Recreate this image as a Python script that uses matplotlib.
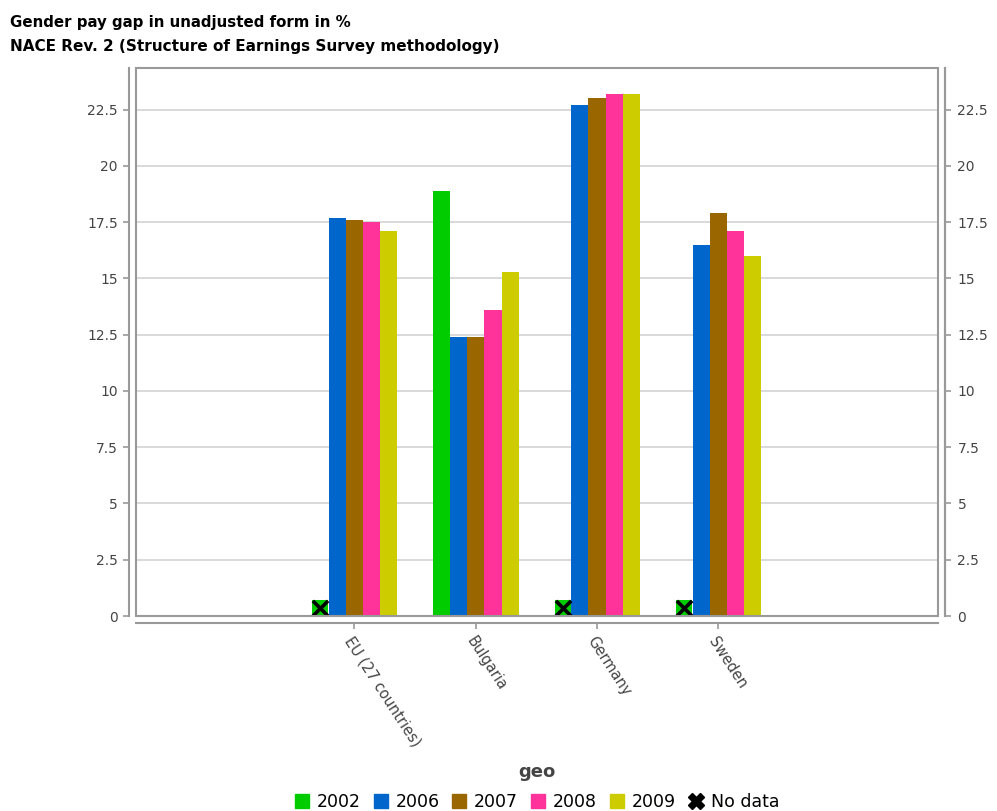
"""Gender pay gap chart (Eurostat style grouped bars)."""

import matplotlib
matplotlib.use("Agg")
import matplotlib.pyplot as plt
from matplotlib.lines import Line2D
from matplotlib.patches import Rectangle
import numpy as np

plt.rcParams["font.family"] = "DejaVu Sans"

COUNTRIES = ["EU (27 countries)", "Bulgaria", "Germany", "Sweden"]
YEARS = ["2002", "2006", "2007", "2008", "2009"]
COLORS = ["#00CC00", "#0066CC", "#996600", "#FF3399", "#CCCC00"]

# None = no data
V2002 = [None, 18.9, None, None]
V2006 = [17.7, 12.4, 22.7, 16.5]
V2007 = [17.6, 12.4, 23.0, 17.9]
V2008 = [17.5, 13.6, 23.2, 17.1]
V2009 = [17.1, 15.3, 23.2, 16.0]
SERIES = [V2002, V2006, V2007, V2008, V2009]

YTICKS = [0, 2.5, 5, 7.5, 10, 12.5, 15, 17.5, 20, 22.5]
YTICK_LABELS = ["0", "2.5", "5", "7.5", "10", "12.5", "15", "17.5", "20", "22.5"]

W, H = 997, 811
BAR_W = 0.142
AX_GRAY = "#999999"
TXT_GRAY = "#444444"


def main():
    fig = plt.figure(figsize=(W / 100, H / 100), dpi=100)
    ax = fig.add_axes([136 / W, (H - 616) / H, (938 - 136) / W, (616 - 68) / H])
    ax.set_xlim(-1.8, 4.81)
    ax.set_ylim(0, 24.35)

    # plot box
    ax.add_patch(Rectangle((0, 0), 1, 1, transform=ax.transAxes, fill=False,
                           edgecolor=AX_GRAY, lw=1.5, zorder=5, clip_on=False))
    ax.spines["top"].set_visible(False)
    for side in ("left", "right", "bottom"):
        ax.spines[side].set_position(("outward", 5))
        ax.spines[side].set_color(AX_GRAY)
        ax.spines[side].set_linewidth(1.5)

    # grid
    for y in YTICKS[1:]:
        ax.axhline(y, color="#d0d0d0", lw=1.1, zorder=0)

    x = np.arange(len(COUNTRIES))
    for i, (vals, col) in enumerate(zip(SERIES, COLORS)):
        xs = x + (i - 2) * BAR_W
        for xi, v in zip(xs, vals):
            if v is None:
                ax.scatter(xi, 0.35, marker="s", s=130, color=col, zorder=3,
                           linewidths=0)
                ax.scatter(xi, 0.35, marker="x", s=120, color="black",
                           linewidths=2.6, zorder=4)
            else:
                ax.bar(xi, v, width=BAR_W, color=col, zorder=2, linewidth=0)

    ax.set_yticks(YTICKS)
    ax.set_yticklabels(YTICK_LABELS)
    ax.tick_params(axis="y", length=4, width=1.2, color=AX_GRAY,
                   labelcolor=TXT_GRAY, labelsize=10, pad=4)
    ax.set_xticks(x)
    ax.set_xticklabels(COUNTRIES, rotation=-57, ha="left", va="top",
                       rotation_mode="anchor")
    ax.tick_params(axis="x", length=4, width=1.2, color=AX_GRAY,
                   labelcolor=TXT_GRAY, labelsize=10.5, pad=4)

    ax2 = ax.twinx()
    ax2.set_ylim(ax.get_ylim())
    for side in ("left", "top", "bottom"):
        ax2.spines[side].set_visible(False)
    ax2.spines["right"].set_position(("outward", 5))
    ax2.spines["right"].set_color(AX_GRAY)
    ax2.spines["right"].set_linewidth(1.5)
    ax2.set_yticks(YTICKS)
    ax2.set_yticklabels(YTICK_LABELS)
    ax2.tick_params(axis="y", length=4, width=1.2, color=AX_GRAY,
                    labelcolor=TXT_GRAY, labelsize=10, pad=5)

    fig.text(10 / W, 1 - 22 / H, "Gender pay gap in unadjusted form in %",
             ha="left", va="center", fontsize=10.8, fontweight="bold")
    fig.text(10 / W, 1 - 46 / H,
             "NACE Rev. 2 (Structure of Earnings Survey methodology)",
             ha="left", va="center", fontsize=11, fontweight="bold")
    fig.text(537 / W, 1 - 772 / H, "geo", ha="center", va="center",
             fontsize=13, fontweight="bold", color=TXT_GRAY)

    handles = [Line2D([], [], marker="s", ls="", color=c, markersize=10)
               for c in COLORS]
    handles.append(Line2D([], [], marker="X", ls="", color="black",
                          markersize=11))
    fig.legend(handles, YEARS + ["No data"], loc="center",
               bbox_to_anchor=(537 / W, 1 - 802 / H), ncol=6, frameon=False,
               fontsize=12.5, handlelength=0.8, handletextpad=0.45,
               columnspacing=0.75, borderpad=0)

    fig.savefig("out.png", dpi=100)


if __name__ == "__main__":
    main()
